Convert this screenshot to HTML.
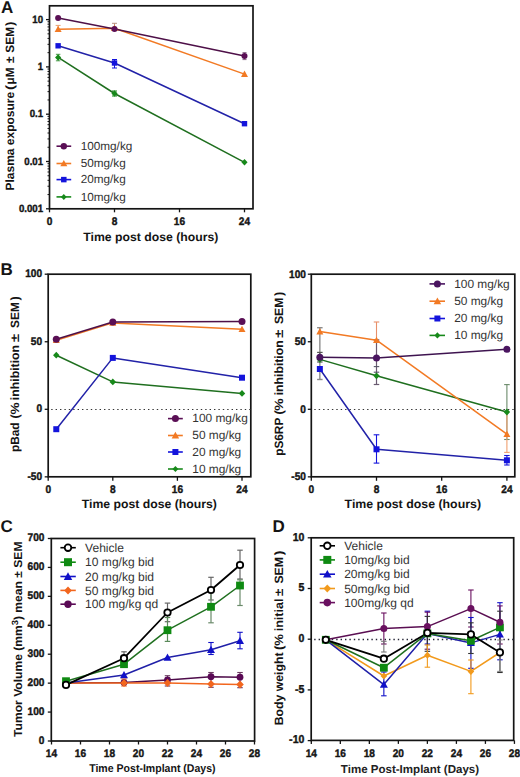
<!DOCTYPE html><html><head><meta charset="utf-8"><style>html,body{margin:0;padding:0;background:#fff;width:520px;height:777px;overflow:hidden}svg{display:block}</style></head><body>
<svg width="520" height="777" viewBox="0 0 520 777" style="font-family:'Liberation Sans',sans-serif;text-rendering:geometricPrecision">
<rect width="520" height="777" fill="#fff"/>
<text x="1.00" y="12.80" text-anchor="start" font-size="17" font-weight="bold" fill="#141414" >A</text>
<rect x="49.50" y="5.80" width="203.50" height="203.00" fill="none" stroke="#141414" stroke-width="1.7"/>
<line x1="46.00" y1="208.80" x2="49.50" y2="208.80" stroke="#141414" stroke-width="1.3" />
<text transform="translate(43.10,212.00) scale(0.92,1)" text-anchor="end" font-size="10.5" font-weight="bold" fill="#141414" stroke="#141414" stroke-width="0.4" >0.001</text>
<line x1="47.50" y1="194.56" x2="49.50" y2="194.56" stroke="#141414" stroke-width="1.0" />
<line x1="47.50" y1="186.23" x2="49.50" y2="186.23" stroke="#141414" stroke-width="1.0" />
<line x1="47.50" y1="180.32" x2="49.50" y2="180.32" stroke="#141414" stroke-width="1.0" />
<line x1="47.50" y1="175.74" x2="49.50" y2="175.74" stroke="#141414" stroke-width="1.0" />
<line x1="47.50" y1="171.99" x2="49.50" y2="171.99" stroke="#141414" stroke-width="1.0" />
<line x1="47.50" y1="168.83" x2="49.50" y2="168.83" stroke="#141414" stroke-width="1.0" />
<line x1="47.50" y1="166.08" x2="49.50" y2="166.08" stroke="#141414" stroke-width="1.0" />
<line x1="47.50" y1="163.66" x2="49.50" y2="163.66" stroke="#141414" stroke-width="1.0" />
<line x1="46.00" y1="161.50" x2="49.50" y2="161.50" stroke="#141414" stroke-width="1.3" />
<text transform="translate(43.10,164.70) scale(0.92,1)" text-anchor="end" font-size="10.5" font-weight="bold" fill="#141414" stroke="#141414" stroke-width="0.4" >0.01</text>
<line x1="47.50" y1="147.26" x2="49.50" y2="147.26" stroke="#141414" stroke-width="1.0" />
<line x1="47.50" y1="138.93" x2="49.50" y2="138.93" stroke="#141414" stroke-width="1.0" />
<line x1="47.50" y1="133.02" x2="49.50" y2="133.02" stroke="#141414" stroke-width="1.0" />
<line x1="47.50" y1="128.44" x2="49.50" y2="128.44" stroke="#141414" stroke-width="1.0" />
<line x1="47.50" y1="124.69" x2="49.50" y2="124.69" stroke="#141414" stroke-width="1.0" />
<line x1="47.50" y1="121.53" x2="49.50" y2="121.53" stroke="#141414" stroke-width="1.0" />
<line x1="47.50" y1="118.78" x2="49.50" y2="118.78" stroke="#141414" stroke-width="1.0" />
<line x1="47.50" y1="116.36" x2="49.50" y2="116.36" stroke="#141414" stroke-width="1.0" />
<line x1="46.00" y1="114.20" x2="49.50" y2="114.20" stroke="#141414" stroke-width="1.3" />
<text transform="translate(43.10,117.40) scale(0.92,1)" text-anchor="end" font-size="10.5" font-weight="bold" fill="#141414" stroke="#141414" stroke-width="0.4" >0.1</text>
<line x1="47.50" y1="99.96" x2="49.50" y2="99.96" stroke="#141414" stroke-width="1.0" />
<line x1="47.50" y1="91.63" x2="49.50" y2="91.63" stroke="#141414" stroke-width="1.0" />
<line x1="47.50" y1="85.72" x2="49.50" y2="85.72" stroke="#141414" stroke-width="1.0" />
<line x1="47.50" y1="81.14" x2="49.50" y2="81.14" stroke="#141414" stroke-width="1.0" />
<line x1="47.50" y1="77.39" x2="49.50" y2="77.39" stroke="#141414" stroke-width="1.0" />
<line x1="47.50" y1="74.23" x2="49.50" y2="74.23" stroke="#141414" stroke-width="1.0" />
<line x1="47.50" y1="71.48" x2="49.50" y2="71.48" stroke="#141414" stroke-width="1.0" />
<line x1="47.50" y1="69.06" x2="49.50" y2="69.06" stroke="#141414" stroke-width="1.0" />
<line x1="46.00" y1="66.90" x2="49.50" y2="66.90" stroke="#141414" stroke-width="1.3" />
<text transform="translate(43.10,70.10) scale(0.92,1)" text-anchor="end" font-size="10.5" font-weight="bold" fill="#141414" stroke="#141414" stroke-width="0.4" >1</text>
<line x1="47.50" y1="52.66" x2="49.50" y2="52.66" stroke="#141414" stroke-width="1.0" />
<line x1="47.50" y1="44.33" x2="49.50" y2="44.33" stroke="#141414" stroke-width="1.0" />
<line x1="47.50" y1="38.42" x2="49.50" y2="38.42" stroke="#141414" stroke-width="1.0" />
<line x1="47.50" y1="33.84" x2="49.50" y2="33.84" stroke="#141414" stroke-width="1.0" />
<line x1="47.50" y1="30.09" x2="49.50" y2="30.09" stroke="#141414" stroke-width="1.0" />
<line x1="47.50" y1="26.93" x2="49.50" y2="26.93" stroke="#141414" stroke-width="1.0" />
<line x1="47.50" y1="24.18" x2="49.50" y2="24.18" stroke="#141414" stroke-width="1.0" />
<line x1="47.50" y1="21.76" x2="49.50" y2="21.76" stroke="#141414" stroke-width="1.0" />
<line x1="46.00" y1="19.60" x2="49.50" y2="19.60" stroke="#141414" stroke-width="1.3" />
<text transform="translate(43.10,22.80) scale(0.92,1)" text-anchor="end" font-size="10.5" font-weight="bold" fill="#141414" stroke="#141414" stroke-width="0.4" >10</text>
<line x1="49.50" y1="208.80" x2="49.50" y2="212.30" stroke="#141414" stroke-width="1.3" />
<text transform="translate(49.50,224.60) scale(0.92,1)" text-anchor="middle" font-size="11" font-weight="bold" fill="#141414" stroke="#141414" stroke-width="0.4" >0</text>
<line x1="114.50" y1="208.80" x2="114.50" y2="212.30" stroke="#141414" stroke-width="1.3" />
<text transform="translate(114.50,224.60) scale(0.92,1)" text-anchor="middle" font-size="11" font-weight="bold" fill="#141414" stroke="#141414" stroke-width="0.4" >8</text>
<line x1="179.50" y1="208.80" x2="179.50" y2="212.30" stroke="#141414" stroke-width="1.3" />
<text transform="translate(179.50,224.60) scale(0.92,1)" text-anchor="middle" font-size="11" font-weight="bold" fill="#141414" stroke="#141414" stroke-width="0.4" >16</text>
<line x1="244.50" y1="208.80" x2="244.50" y2="212.30" stroke="#141414" stroke-width="1.3" />
<text transform="translate(244.50,224.60) scale(0.92,1)" text-anchor="middle" font-size="11" font-weight="bold" fill="#141414" stroke="#141414" stroke-width="0.4" >24</text>
<text x="150.80" y="240.80" text-anchor="middle" font-size="12" font-weight="bold" fill="#141414" textLength="135" lengthAdjust="spacingAndGlyphs" >Time post dose (hours)</text>
<text transform="translate(14.40,190.50) rotate(-90)" text-anchor="start" font-size="12" font-weight="bold" fill="#141414" textLength="98.70" lengthAdjust="spacingAndGlyphs">Plasma exposure</text>
<text transform="translate(14.40,89.90) rotate(-90)" text-anchor="start" font-size="12" font-weight="bold" fill="#141414" textLength="5.00" lengthAdjust="spacingAndGlyphs">(</text>
<text transform="translate(14.40,84.40) rotate(-90)" text-anchor="start" font-size="12" font-weight="bold" fill="#141414" textLength="16.90" lengthAdjust="spacingAndGlyphs">μM</text>
<text transform="translate(14.40,63.10) rotate(-90)" text-anchor="start" font-size="12" font-weight="bold" fill="#141414" textLength="6.50" lengthAdjust="spacingAndGlyphs">±</text>
<text transform="translate(14.40,52.70) rotate(-90)" text-anchor="start" font-size="12" font-weight="bold" fill="#141414" textLength="25.80" lengthAdjust="spacingAndGlyphs">SEM</text>
<text transform="translate(14.40,25.90) rotate(-90)" text-anchor="start" font-size="12" font-weight="bold" fill="#141414" textLength="4.40" lengthAdjust="spacingAndGlyphs">)</text>
<line x1="58.12" y1="25.40" x2="58.12" y2="29.00" stroke="#e8a070" stroke-width="1" />
<line x1="55.62" y1="25.40" x2="60.62" y2="25.40" stroke="#e8a070" stroke-width="1" />
<line x1="114.50" y1="23.30" x2="114.50" y2="29.00" stroke="#b89080" stroke-width="1" />
<line x1="112.00" y1="23.30" x2="117.00" y2="23.30" stroke="#b89080" stroke-width="1" />
<line x1="114.50" y1="59.50" x2="114.50" y2="68.00" stroke="#1414dc" stroke-width="1" />
<line x1="112.00" y1="59.50" x2="117.00" y2="59.50" stroke="#1414dc" stroke-width="1" />
<line x1="112.00" y1="68.00" x2="117.00" y2="68.00" stroke="#1414dc" stroke-width="1" />
<line x1="58.12" y1="54.30" x2="58.12" y2="60.80" stroke="#4a9a4a" stroke-width="1" />
<line x1="55.88" y1="54.30" x2="60.38" y2="54.30" stroke="#4a9a4a" stroke-width="1" />
<line x1="55.88" y1="60.80" x2="60.38" y2="60.80" stroke="#4a9a4a" stroke-width="1" />
<line x1="244.50" y1="52.60" x2="244.50" y2="59.60" stroke="#8a6a88" stroke-width="1" />
<line x1="242.50" y1="52.60" x2="246.50" y2="52.60" stroke="#8a6a88" stroke-width="1" />
<line x1="242.50" y1="59.60" x2="246.50" y2="59.60" stroke="#8a6a88" stroke-width="1" />
<line x1="114.50" y1="91.00" x2="114.50" y2="96.00" stroke="#17891a" stroke-width="1" />
<line x1="112.00" y1="91.00" x2="117.00" y2="91.00" stroke="#17891a" stroke-width="1" />
<line x1="112.00" y1="96.00" x2="117.00" y2="96.00" stroke="#17891a" stroke-width="1" />
<polyline points="58.12,57.40 114.50,93.50 244.50,162.30" fill="none" stroke="#1f6f1f" stroke-width="1.5" stroke-linejoin="round"/>
<polyline points="58.12,45.80 114.50,63.00 244.50,123.70" fill="none" stroke="#2222a8" stroke-width="1.5" stroke-linejoin="round"/>
<polyline points="58.12,29.20 114.50,28.30 244.50,74.10" fill="none" stroke="#f27a24" stroke-width="1.5" stroke-linejoin="round"/>
<polyline points="58.12,18.00 114.50,29.00 244.50,56.10" fill="none" stroke="#4e1048" stroke-width="1.5" stroke-linejoin="round"/>
<polygon points="58.12,54.15 61.21,57.40 58.12,60.65 55.04,57.40" fill="#17891a"/>
<polygon points="114.50,90.25 117.59,93.50 114.50,96.75 111.41,93.50" fill="#17891a"/>
<polygon points="244.50,159.05 247.59,162.30 244.50,165.55 241.41,162.30" fill="#17891a"/>
<rect x="55.42" y="43.10" width="5.40" height="5.40" fill="#1414dc"/>
<rect x="111.80" y="60.30" width="5.40" height="5.40" fill="#1414dc"/>
<rect x="241.80" y="121.00" width="5.40" height="5.40" fill="#1414dc"/>
<polygon points="58.12,25.70 61.62,32.00 54.62,32.00" fill="#f27a24"/>
<polygon points="114.50,24.80 118.00,31.10 111.00,31.10" fill="#f27a24"/>
<polygon points="244.50,70.60 248.00,76.90 241.00,76.90" fill="#f27a24"/>
<circle cx="58.12" cy="18.00" r="3.00" fill="#5a0f55"/>
<circle cx="114.50" cy="29.00" r="3.00" fill="#5a0f55"/>
<circle cx="244.50" cy="56.10" r="3.00" fill="#5a0f55"/>
<line x1="56.50" y1="146.20" x2="71.20" y2="146.20" stroke="#5a0f55" stroke-width="1.6" />
<circle cx="63.80" cy="146.20" r="3.20" fill="#5a0f55"/>
<text x="80.70" y="149.80" text-anchor="start" font-size="11.75" font-weight="normal" fill="#333333" >100mg/kg</text>
<line x1="56.50" y1="163.50" x2="71.20" y2="163.50" stroke="#f27a24" stroke-width="1.6" />
<polygon points="63.80,160.00 67.30,166.30 60.30,166.30" fill="#f27a24"/>
<text x="80.70" y="167.10" text-anchor="start" font-size="11.75" font-weight="normal" fill="#333333" >50mg/kg</text>
<line x1="56.50" y1="179.60" x2="71.20" y2="179.60" stroke="#1414dc" stroke-width="1.6" />
<rect x="61.05" y="176.85" width="5.50" height="5.50" fill="#1414dc"/>
<text x="80.70" y="183.20" text-anchor="start" font-size="11.75" font-weight="normal" fill="#333333" >20mg/kg</text>
<line x1="56.50" y1="196.90" x2="71.20" y2="196.90" stroke="#17891a" stroke-width="1.6" />
<polygon points="63.80,193.90 66.65,196.90 63.80,199.90 60.95,196.90" fill="#17891a"/>
<text x="80.70" y="200.50" text-anchor="start" font-size="11.75" font-weight="normal" fill="#333333" >10mg/kg</text>
<text x="0.60" y="275.30" text-anchor="start" font-size="17" font-weight="bold" fill="#141414" >B</text>
<rect x="48.20" y="274.20" width="202.60" height="202.60" fill="none" stroke="#141414" stroke-width="1.7"/>
<line x1="44.70" y1="274.20" x2="48.20" y2="274.20" stroke="#141414" stroke-width="1.3" />
<text transform="translate(42.10,277.10) scale(0.92,1)" text-anchor="end" font-size="11" font-weight="bold" fill="#141414" stroke="#141414" stroke-width="0.4" >100</text>
<line x1="44.70" y1="341.75" x2="48.20" y2="341.75" stroke="#141414" stroke-width="1.3" />
<text transform="translate(42.10,344.65) scale(0.92,1)" text-anchor="end" font-size="11" font-weight="bold" fill="#141414" stroke="#141414" stroke-width="0.4" >50</text>
<line x1="44.70" y1="409.30" x2="48.20" y2="409.30" stroke="#141414" stroke-width="1.3" />
<text transform="translate(42.10,412.20) scale(0.92,1)" text-anchor="end" font-size="11" font-weight="bold" fill="#141414" stroke="#141414" stroke-width="0.4" >0</text>
<line x1="44.70" y1="476.85" x2="48.20" y2="476.85" stroke="#141414" stroke-width="1.3" />
<text transform="translate(42.10,479.75) scale(0.92,1)" text-anchor="end" font-size="11" font-weight="bold" fill="#141414" stroke="#141414" stroke-width="0.4" >-50</text>
<line x1="48.20" y1="476.80" x2="48.20" y2="480.80" stroke="#141414" stroke-width="1.3" />
<text transform="translate(48.20,493.10) scale(0.92,1)" text-anchor="middle" font-size="11" font-weight="bold" fill="#141414" stroke="#141414" stroke-width="0.4" >0</text>
<line x1="112.80" y1="476.80" x2="112.80" y2="480.80" stroke="#141414" stroke-width="1.3" />
<text transform="translate(112.80,493.10) scale(0.92,1)" text-anchor="middle" font-size="11" font-weight="bold" fill="#141414" stroke="#141414" stroke-width="0.4" >8</text>
<line x1="177.40" y1="476.80" x2="177.40" y2="480.80" stroke="#141414" stroke-width="1.3" />
<text transform="translate(177.40,493.10) scale(0.92,1)" text-anchor="middle" font-size="11" font-weight="bold" fill="#141414" stroke="#141414" stroke-width="0.4" >16</text>
<line x1="242.00" y1="476.80" x2="242.00" y2="480.80" stroke="#141414" stroke-width="1.3" />
<text transform="translate(242.00,493.10) scale(0.92,1)" text-anchor="middle" font-size="11" font-weight="bold" fill="#141414" stroke="#141414" stroke-width="0.4" >24</text>
<line x1="51.20" y1="409.50" x2="250.80" y2="409.50" stroke="#333" stroke-width="1.1" stroke-dasharray="1.4,3"/>
<text x="149.30" y="508.00" text-anchor="middle" font-size="12" font-weight="bold" fill="#141414" textLength="135" lengthAdjust="spacingAndGlyphs" >Time post dose (hours)</text>
<text transform="translate(19.10,452.10) rotate(-90)" text-anchor="start" font-size="12" font-weight="bold" fill="#141414" textLength="29.60" lengthAdjust="spacingAndGlyphs">pBad</text>
<text transform="translate(19.10,418.50) rotate(-90)" text-anchor="start" font-size="12" font-weight="bold" fill="#141414" textLength="4.10" lengthAdjust="spacingAndGlyphs">(</text>
<text transform="translate(19.10,414.40) rotate(-90)" text-anchor="start" font-size="12" font-weight="bold" fill="#141414" textLength="12.10" lengthAdjust="spacingAndGlyphs">%</text>
<text transform="translate(19.10,400.20) rotate(-90)" text-anchor="start" font-size="12" font-weight="bold" fill="#141414" textLength="55.30" lengthAdjust="spacingAndGlyphs">inhibition</text>
<text transform="translate(19.10,342.10) rotate(-90)" text-anchor="start" font-size="12" font-weight="bold" fill="#141414" textLength="8.10" lengthAdjust="spacingAndGlyphs">±</text>
<text transform="translate(19.10,328.00) rotate(-90)" text-anchor="start" font-size="12" font-weight="bold" fill="#141414" textLength="25.80" lengthAdjust="spacingAndGlyphs">SEM</text>
<text transform="translate(19.10,300.40) rotate(-90)" text-anchor="start" font-size="12" font-weight="bold" fill="#141414" textLength="4.20" lengthAdjust="spacingAndGlyphs">)</text>
<polyline points="56.28,355.20 112.80,381.90 242.00,393.40" fill="none" stroke="#1f6f1f" stroke-width="1.5" stroke-linejoin="round"/>
<polyline points="56.28,429.20 112.80,357.90 242.00,377.70" fill="none" stroke="#2222a8" stroke-width="1.5" stroke-linejoin="round"/>
<polyline points="56.28,340.30 112.80,322.90 242.00,329.20" fill="none" stroke="#f27a24" stroke-width="1.5" stroke-linejoin="round"/>
<polyline points="56.28,339.20 112.80,322.00 242.00,321.50" fill="none" stroke="#4e1048" stroke-width="1.5" stroke-linejoin="round"/>
<polygon points="56.28,351.80 59.51,355.20 56.28,358.60 53.05,355.20" fill="#17891a"/>
<polygon points="112.80,378.50 116.03,381.90 112.80,385.30 109.57,381.90" fill="#17891a"/>
<polygon points="242.00,390.00 245.23,393.40 242.00,396.80 238.77,393.40" fill="#17891a"/>
<rect x="53.28" y="426.20" width="6.00" height="6.00" fill="#1414dc"/>
<rect x="109.80" y="354.90" width="6.00" height="6.00" fill="#1414dc"/>
<rect x="239.00" y="374.70" width="6.00" height="6.00" fill="#1414dc"/>
<polygon points="56.28,336.80 59.78,343.10 52.78,343.10" fill="#f27a24"/>
<polygon points="112.80,319.40 116.30,325.70 109.30,325.70" fill="#f27a24"/>
<polygon points="242.00,325.70 245.50,332.00 238.50,332.00" fill="#f27a24"/>
<circle cx="56.28" cy="339.20" r="3.50" fill="#5a0f55"/>
<circle cx="112.80" cy="322.00" r="3.50" fill="#5a0f55"/>
<circle cx="242.00" cy="321.50" r="3.50" fill="#5a0f55"/>
<line x1="168.00" y1="418.60" x2="182.80" y2="418.60" stroke="#5a0f55" stroke-width="1.6" />
<circle cx="175.40" cy="418.60" r="3.50" fill="#5a0f55"/>
<text x="192.30" y="422.20" text-anchor="start" font-size="11.9" font-weight="normal" fill="#333333" >100 mg/kg</text>
<line x1="168.00" y1="435.50" x2="182.80" y2="435.50" stroke="#f27a24" stroke-width="1.6" />
<polygon points="175.40,431.75 179.15,438.50 171.65,438.50" fill="#f27a24"/>
<text x="192.30" y="439.10" text-anchor="start" font-size="11.9" font-weight="normal" fill="#333333" >50 mg/kg</text>
<line x1="168.00" y1="452.00" x2="182.80" y2="452.00" stroke="#1414dc" stroke-width="1.6" />
<rect x="172.40" y="449.00" width="6.00" height="6.00" fill="#1414dc"/>
<text x="192.30" y="455.60" text-anchor="start" font-size="11.9" font-weight="normal" fill="#333333" >20 mg/kg</text>
<line x1="168.00" y1="469.00" x2="182.80" y2="469.00" stroke="#17891a" stroke-width="1.6" />
<polygon points="175.40,465.90 178.34,469.00 175.40,472.10 172.46,469.00" fill="#17891a"/>
<text x="192.30" y="472.60" text-anchor="start" font-size="11.9" font-weight="normal" fill="#333333" >10 mg/kg</text>
<rect x="311.30" y="274.20" width="203.50" height="202.60" fill="none" stroke="#141414" stroke-width="1.7"/>
<line x1="307.80" y1="274.20" x2="311.30" y2="274.20" stroke="#141414" stroke-width="1.3" />
<text transform="translate(306.00,277.60) scale(0.92,1)" text-anchor="end" font-size="11" font-weight="bold" fill="#141414" stroke="#141414" stroke-width="0.4" >100</text>
<line x1="307.80" y1="341.75" x2="311.30" y2="341.75" stroke="#141414" stroke-width="1.3" />
<text transform="translate(306.00,345.15) scale(0.92,1)" text-anchor="end" font-size="11" font-weight="bold" fill="#141414" stroke="#141414" stroke-width="0.4" >50</text>
<line x1="307.80" y1="409.30" x2="311.30" y2="409.30" stroke="#141414" stroke-width="1.3" />
<text transform="translate(306.00,412.70) scale(0.92,1)" text-anchor="end" font-size="11" font-weight="bold" fill="#141414" stroke="#141414" stroke-width="0.4" >0</text>
<line x1="307.80" y1="476.85" x2="311.30" y2="476.85" stroke="#141414" stroke-width="1.3" />
<text transform="translate(306.00,480.25) scale(0.92,1)" text-anchor="end" font-size="11" font-weight="bold" fill="#141414" stroke="#141414" stroke-width="0.4" >-50</text>
<line x1="311.30" y1="476.80" x2="311.30" y2="480.80" stroke="#141414" stroke-width="1.3" />
<text transform="translate(311.30,493.10) scale(0.92,1)" text-anchor="middle" font-size="11" font-weight="bold" fill="#141414" stroke="#141414" stroke-width="0.4" >0</text>
<line x1="376.50" y1="476.80" x2="376.50" y2="480.80" stroke="#141414" stroke-width="1.3" />
<text transform="translate(376.50,493.10) scale(0.92,1)" text-anchor="middle" font-size="11" font-weight="bold" fill="#141414" stroke="#141414" stroke-width="0.4" >8</text>
<line x1="441.70" y1="476.80" x2="441.70" y2="480.80" stroke="#141414" stroke-width="1.3" />
<text transform="translate(441.70,493.10) scale(0.92,1)" text-anchor="middle" font-size="11" font-weight="bold" fill="#141414" stroke="#141414" stroke-width="0.4" >16</text>
<line x1="506.90" y1="476.80" x2="506.90" y2="480.80" stroke="#141414" stroke-width="1.3" />
<text transform="translate(506.90,493.10) scale(0.92,1)" text-anchor="middle" font-size="11" font-weight="bold" fill="#141414" stroke="#141414" stroke-width="0.4" >24</text>
<line x1="314.30" y1="409.50" x2="514.80" y2="409.50" stroke="#333" stroke-width="1.1" stroke-dasharray="1.4,3"/>
<text x="412.80" y="508.10" text-anchor="middle" font-size="12" font-weight="bold" fill="#141414" textLength="136.5" lengthAdjust="spacingAndGlyphs" >Time post dose (hours)</text>
<text transform="translate(283.00,455.80) rotate(-90)" text-anchor="start" font-size="12" font-weight="bold" fill="#141414" textLength="38.10" lengthAdjust="spacingAndGlyphs">pS6RP</text>
<text transform="translate(283.00,414.50) rotate(-90)" text-anchor="start" font-size="12" font-weight="bold" fill="#141414" textLength="4.20" lengthAdjust="spacingAndGlyphs">(</text>
<text transform="translate(283.00,410.80) rotate(-90)" text-anchor="start" font-size="12" font-weight="bold" fill="#141414" textLength="12.40" lengthAdjust="spacingAndGlyphs">%</text>
<text transform="translate(283.00,395.30) rotate(-90)" text-anchor="start" font-size="12" font-weight="bold" fill="#141414" textLength="55.00" lengthAdjust="spacingAndGlyphs">inhibition</text>
<text transform="translate(283.00,337.70) rotate(-90)" text-anchor="start" font-size="12" font-weight="bold" fill="#141414" textLength="8.00" lengthAdjust="spacingAndGlyphs">±</text>
<text transform="translate(283.00,324.00) rotate(-90)" text-anchor="start" font-size="12" font-weight="bold" fill="#141414" textLength="26.40" lengthAdjust="spacingAndGlyphs">SEM</text>
<text transform="translate(283.00,296.10) rotate(-90)" text-anchor="start" font-size="12" font-weight="bold" fill="#141414" textLength="4.20" lengthAdjust="spacingAndGlyphs">)</text>
<line x1="319.85" y1="327.70" x2="319.85" y2="379.50" stroke="#8c8c8c" stroke-width="1.4" />
<line x1="317.10" y1="327.70" x2="322.60" y2="327.70" stroke="#8c8c8c" stroke-width="1.4" />
<line x1="317.10" y1="379.50" x2="322.60" y2="379.50" stroke="#8c8c8c" stroke-width="1.4" />
<line x1="319.85" y1="352.40" x2="319.85" y2="362.00" stroke="#555" stroke-width="1.2" />
<line x1="317.10" y1="352.40" x2="322.60" y2="352.40" stroke="#555" stroke-width="1.2" />
<line x1="317.10" y1="362.00" x2="322.60" y2="362.00" stroke="#555" stroke-width="1.2" />
<line x1="376.50" y1="322.00" x2="376.50" y2="340.00" stroke="#e8906a" stroke-width="1.1" />
<line x1="373.75" y1="322.00" x2="379.25" y2="322.00" stroke="#e8906a" stroke-width="1.1" />
<line x1="373.75" y1="340.00" x2="379.25" y2="340.00" stroke="#e8906a" stroke-width="1.1" />
<line x1="376.50" y1="340.00" x2="376.50" y2="384.50" stroke="#6a5a70" stroke-width="1.2" />
<line x1="373.75" y1="340.00" x2="379.25" y2="340.00" stroke="#6a5a70" stroke-width="1.2" />
<line x1="373.75" y1="384.50" x2="379.25" y2="384.50" stroke="#6a5a70" stroke-width="1.2" />
<line x1="373.75" y1="366.60" x2="379.25" y2="366.60" stroke="#556" stroke-width="1.1" />
<line x1="373.75" y1="372.20" x2="379.25" y2="372.20" stroke="#556" stroke-width="1.1" />
<line x1="376.50" y1="434.80" x2="376.50" y2="463.10" stroke="#1414dc" stroke-width="1.1" />
<line x1="373.65" y1="434.80" x2="379.35" y2="434.80" stroke="#1414dc" stroke-width="1.1" />
<line x1="373.65" y1="463.10" x2="379.35" y2="463.10" stroke="#1414dc" stroke-width="1.1" />
<line x1="506.90" y1="384.60" x2="506.90" y2="439.50" stroke="#6a8a6a" stroke-width="1.1" />
<line x1="504.15" y1="384.60" x2="509.65" y2="384.60" stroke="#6a8a6a" stroke-width="1.1" />
<line x1="504.15" y1="439.50" x2="509.65" y2="439.50" stroke="#6a8a6a" stroke-width="1.1" />
<line x1="506.90" y1="412.00" x2="506.90" y2="452.40" stroke="#f0a070" stroke-width="1.1" />
<line x1="504.15" y1="452.40" x2="509.65" y2="452.40" stroke="#f0a070" stroke-width="1.1" />
<line x1="506.90" y1="455.50" x2="506.90" y2="465.00" stroke="#1414dc" stroke-width="1.1" />
<line x1="504.15" y1="455.50" x2="509.65" y2="455.50" stroke="#1414dc" stroke-width="1.1" />
<line x1="504.15" y1="465.00" x2="509.65" y2="465.00" stroke="#1414dc" stroke-width="1.1" />
<polyline points="319.85,359.40 376.50,375.80 506.90,412.00" fill="none" stroke="#1f6f1f" stroke-width="1.5" stroke-linejoin="round"/>
<polyline points="319.85,369.00 376.50,449.30 506.90,460.30" fill="none" stroke="#2222a8" stroke-width="1.5" stroke-linejoin="round"/>
<polyline points="319.85,331.60 376.50,340.20 506.90,434.20" fill="none" stroke="#f27a24" stroke-width="1.5" stroke-linejoin="round"/>
<polyline points="319.85,357.30 376.50,358.00 506.90,349.30" fill="none" stroke="#3e1450" stroke-width="1.5" stroke-linejoin="round"/>
<polygon points="319.85,356.00 323.08,359.40 319.85,362.80 316.62,359.40" fill="#17891a"/>
<polygon points="376.50,372.40 379.73,375.80 376.50,379.20 373.27,375.80" fill="#17891a"/>
<polygon points="506.90,408.60 510.13,412.00 506.90,415.40 503.67,412.00" fill="#17891a"/>
<rect x="316.85" y="366.00" width="6.00" height="6.00" fill="#1414dc"/>
<rect x="373.50" y="446.30" width="6.00" height="6.00" fill="#1414dc"/>
<rect x="503.90" y="457.30" width="6.00" height="6.00" fill="#1414dc"/>
<polygon points="319.85,328.10 323.35,334.40 316.35,334.40" fill="#f27a24"/>
<polygon points="376.50,336.70 380.00,343.00 373.00,343.00" fill="#f27a24"/>
<polygon points="506.90,430.70 510.40,437.00 503.40,437.00" fill="#f27a24"/>
<circle cx="319.85" cy="357.30" r="3.50" fill="#4a1560"/>
<circle cx="376.50" cy="358.00" r="3.50" fill="#4a1560"/>
<circle cx="506.90" cy="349.30" r="3.50" fill="#4a1560"/>
<line x1="429.50" y1="283.90" x2="445.00" y2="283.90" stroke="#4a1560" stroke-width="1.6" />
<circle cx="437.40" cy="283.90" r="3.50" fill="#4a1560"/>
<text x="454.20" y="287.70" text-anchor="start" font-size="11.9" font-weight="normal" fill="#333333" >100 mg/kg</text>
<line x1="429.50" y1="301.20" x2="445.00" y2="301.20" stroke="#f27a24" stroke-width="1.6" />
<polygon points="437.40,297.45 441.15,304.20 433.65,304.20" fill="#f27a24"/>
<text x="454.20" y="305.00" text-anchor="start" font-size="11.9" font-weight="normal" fill="#333333" >50 mg/kg</text>
<line x1="429.50" y1="318.50" x2="445.00" y2="318.50" stroke="#1414dc" stroke-width="1.6" />
<rect x="434.40" y="315.50" width="6.00" height="6.00" fill="#1414dc"/>
<text x="454.20" y="322.30" text-anchor="start" font-size="11.9" font-weight="normal" fill="#333333" >20 mg/kg</text>
<line x1="429.50" y1="335.40" x2="445.00" y2="335.40" stroke="#17891a" stroke-width="1.6" />
<polygon points="437.40,332.30 440.34,335.40 437.40,338.50 434.45,335.40" fill="#17891a"/>
<text x="454.20" y="339.20" text-anchor="start" font-size="11.9" font-weight="normal" fill="#333333" >10 mg/kg</text>
<text x="0.60" y="532.40" text-anchor="start" font-size="17" font-weight="bold" fill="#141414" >C</text>
<rect x="51.30" y="538.50" width="203.30" height="202.50" fill="none" stroke="#141414" stroke-width="1.7"/>
<line x1="47.80" y1="741.00" x2="51.30" y2="741.00" stroke="#141414" stroke-width="1.3" />
<text transform="translate(44.50,743.50) scale(0.92,1)" text-anchor="end" font-size="11" font-weight="bold" fill="#141414" stroke="#141414" stroke-width="0.4" >0</text>
<line x1="47.80" y1="712.07" x2="51.30" y2="712.07" stroke="#141414" stroke-width="1.3" />
<text transform="translate(44.50,714.57) scale(0.92,1)" text-anchor="end" font-size="11" font-weight="bold" fill="#141414" stroke="#141414" stroke-width="0.4" >100</text>
<line x1="47.80" y1="683.14" x2="51.30" y2="683.14" stroke="#141414" stroke-width="1.3" />
<text transform="translate(44.50,685.64) scale(0.92,1)" text-anchor="end" font-size="11" font-weight="bold" fill="#141414" stroke="#141414" stroke-width="0.4" >200</text>
<line x1="47.80" y1="654.21" x2="51.30" y2="654.21" stroke="#141414" stroke-width="1.3" />
<text transform="translate(44.50,656.71) scale(0.92,1)" text-anchor="end" font-size="11" font-weight="bold" fill="#141414" stroke="#141414" stroke-width="0.4" >300</text>
<line x1="47.80" y1="625.28" x2="51.30" y2="625.28" stroke="#141414" stroke-width="1.3" />
<text transform="translate(44.50,627.78) scale(0.92,1)" text-anchor="end" font-size="11" font-weight="bold" fill="#141414" stroke="#141414" stroke-width="0.4" >400</text>
<line x1="47.80" y1="596.35" x2="51.30" y2="596.35" stroke="#141414" stroke-width="1.3" />
<text transform="translate(44.50,598.85) scale(0.92,1)" text-anchor="end" font-size="11" font-weight="bold" fill="#141414" stroke="#141414" stroke-width="0.4" >500</text>
<line x1="47.80" y1="567.42" x2="51.30" y2="567.42" stroke="#141414" stroke-width="1.3" />
<text transform="translate(44.50,569.92) scale(0.92,1)" text-anchor="end" font-size="11" font-weight="bold" fill="#141414" stroke="#141414" stroke-width="0.4" >600</text>
<line x1="47.80" y1="538.49" x2="51.30" y2="538.49" stroke="#141414" stroke-width="1.3" />
<text transform="translate(44.50,540.99) scale(0.92,1)" text-anchor="end" font-size="11" font-weight="bold" fill="#141414" stroke="#141414" stroke-width="0.4" >700</text>
<line x1="51.50" y1="741.00" x2="51.50" y2="744.50" stroke="#141414" stroke-width="1.3" />
<text transform="translate(51.50,757.20) scale(0.92,1)" text-anchor="middle" font-size="11" font-weight="bold" fill="#141414" stroke="#141414" stroke-width="0.4" >14</text>
<line x1="80.50" y1="741.00" x2="80.50" y2="744.50" stroke="#141414" stroke-width="1.3" />
<text transform="translate(80.50,757.20) scale(0.92,1)" text-anchor="middle" font-size="11" font-weight="bold" fill="#141414" stroke="#141414" stroke-width="0.4" >16</text>
<line x1="109.50" y1="741.00" x2="109.50" y2="744.50" stroke="#141414" stroke-width="1.3" />
<text transform="translate(109.50,757.20) scale(0.92,1)" text-anchor="middle" font-size="11" font-weight="bold" fill="#141414" stroke="#141414" stroke-width="0.4" >18</text>
<line x1="138.50" y1="741.00" x2="138.50" y2="744.50" stroke="#141414" stroke-width="1.3" />
<text transform="translate(138.50,757.20) scale(0.92,1)" text-anchor="middle" font-size="11" font-weight="bold" fill="#141414" stroke="#141414" stroke-width="0.4" >20</text>
<line x1="167.50" y1="741.00" x2="167.50" y2="744.50" stroke="#141414" stroke-width="1.3" />
<text transform="translate(167.50,757.20) scale(0.92,1)" text-anchor="middle" font-size="11" font-weight="bold" fill="#141414" stroke="#141414" stroke-width="0.4" >22</text>
<line x1="196.50" y1="741.00" x2="196.50" y2="744.50" stroke="#141414" stroke-width="1.3" />
<text transform="translate(196.50,757.20) scale(0.92,1)" text-anchor="middle" font-size="11" font-weight="bold" fill="#141414" stroke="#141414" stroke-width="0.4" >24</text>
<line x1="225.50" y1="741.00" x2="225.50" y2="744.50" stroke="#141414" stroke-width="1.3" />
<text transform="translate(225.50,757.20) scale(0.92,1)" text-anchor="middle" font-size="11" font-weight="bold" fill="#141414" stroke="#141414" stroke-width="0.4" >26</text>
<line x1="254.50" y1="741.00" x2="254.50" y2="744.50" stroke="#141414" stroke-width="1.3" />
<text transform="translate(254.50,757.20) scale(0.92,1)" text-anchor="middle" font-size="11" font-weight="bold" fill="#141414" stroke="#141414" stroke-width="0.4" >28</text>
<text x="152.40" y="771.80" text-anchor="middle" font-size="11.2" font-weight="bold" fill="#141414" textLength="126.4" lengthAdjust="spacingAndGlyphs" >Time Post-Implant (Days)</text>
<text transform="translate(22.0,639.2) rotate(-90)" text-anchor="middle" font-size="11.6" font-weight="bold" fill="#141414" textLength="195.4" lengthAdjust="spacingAndGlyphs">Tumor Volume (mm<tspan dy="-4.5" font-size="9">3</tspan><tspan dy="4.5">) mean ± SEM</tspan></text>
<line x1="124.00" y1="651.80" x2="124.00" y2="666.00" stroke="#666" stroke-width="1.2" />
<line x1="121.25" y1="651.80" x2="126.75" y2="651.80" stroke="#666" stroke-width="1.2" />
<line x1="121.25" y1="666.00" x2="126.75" y2="666.00" stroke="#666" stroke-width="1.2" />
<line x1="167.50" y1="603.10" x2="167.50" y2="621.70" stroke="#666" stroke-width="1.2" />
<line x1="164.75" y1="603.10" x2="170.25" y2="603.10" stroke="#666" stroke-width="1.2" />
<line x1="164.75" y1="621.70" x2="170.25" y2="621.70" stroke="#666" stroke-width="1.2" />
<line x1="167.50" y1="617.50" x2="167.50" y2="641.40" stroke="#5a8a5a" stroke-width="1.2" />
<line x1="164.75" y1="617.50" x2="170.25" y2="617.50" stroke="#5a8a5a" stroke-width="1.2" />
<line x1="164.75" y1="641.40" x2="170.25" y2="641.40" stroke="#5a8a5a" stroke-width="1.2" />
<line x1="211.00" y1="577.30" x2="211.00" y2="600.00" stroke="#666" stroke-width="1.2" />
<line x1="208.25" y1="577.30" x2="213.75" y2="577.30" stroke="#666" stroke-width="1.2" />
<line x1="208.25" y1="600.00" x2="213.75" y2="600.00" stroke="#666" stroke-width="1.2" />
<line x1="211.00" y1="592.00" x2="211.00" y2="622.80" stroke="#6a8a6a" stroke-width="1.2" />
<line x1="208.25" y1="592.00" x2="213.75" y2="592.00" stroke="#6a8a6a" stroke-width="1.2" />
<line x1="208.25" y1="622.80" x2="213.75" y2="622.80" stroke="#6a8a6a" stroke-width="1.2" />
<line x1="240.00" y1="550.20" x2="240.00" y2="579.00" stroke="#666" stroke-width="1.2" />
<line x1="237.25" y1="550.20" x2="242.75" y2="550.20" stroke="#666" stroke-width="1.2" />
<line x1="237.25" y1="579.00" x2="242.75" y2="579.00" stroke="#666" stroke-width="1.2" />
<line x1="240.00" y1="579.80" x2="240.00" y2="605.50" stroke="#6a8a6a" stroke-width="1.2" />
<line x1="237.25" y1="579.80" x2="242.75" y2="579.80" stroke="#6a8a6a" stroke-width="1.2" />
<line x1="237.25" y1="605.50" x2="242.75" y2="605.50" stroke="#6a8a6a" stroke-width="1.2" />
<line x1="211.00" y1="642.50" x2="211.00" y2="654.50" stroke="#1010c8" stroke-width="1.1" />
<line x1="208.25" y1="642.50" x2="213.75" y2="642.50" stroke="#1010c8" stroke-width="1.1" />
<line x1="208.25" y1="654.50" x2="213.75" y2="654.50" stroke="#1010c8" stroke-width="1.1" />
<line x1="240.00" y1="632.30" x2="240.00" y2="648.80" stroke="#1010c8" stroke-width="1.1" />
<line x1="237.25" y1="632.30" x2="242.75" y2="632.30" stroke="#1010c8" stroke-width="1.1" />
<line x1="237.25" y1="648.80" x2="242.75" y2="648.80" stroke="#1010c8" stroke-width="1.1" />
<line x1="167.50" y1="675.70" x2="167.50" y2="686.00" stroke="#6a3a60" stroke-width="1.1" />
<line x1="164.75" y1="675.70" x2="170.25" y2="675.70" stroke="#6a3a60" stroke-width="1.1" />
<line x1="164.75" y1="686.00" x2="170.25" y2="686.00" stroke="#6a3a60" stroke-width="1.1" />
<line x1="211.00" y1="672.50" x2="211.00" y2="687.30" stroke="#6a3a60" stroke-width="1.1" />
<line x1="208.25" y1="672.50" x2="213.75" y2="672.50" stroke="#6a3a60" stroke-width="1.1" />
<line x1="208.25" y1="687.30" x2="213.75" y2="687.30" stroke="#6a3a60" stroke-width="1.1" />
<line x1="240.00" y1="672.50" x2="240.00" y2="687.70" stroke="#6a3a60" stroke-width="1.1" />
<line x1="237.25" y1="672.50" x2="242.75" y2="672.50" stroke="#6a3a60" stroke-width="1.1" />
<line x1="237.25" y1="687.70" x2="242.75" y2="687.70" stroke="#6a3a60" stroke-width="1.1" />
<line x1="124.00" y1="679.00" x2="124.00" y2="686.00" stroke="#f2661e" stroke-width="1.1" />
<line x1="121.25" y1="679.00" x2="126.75" y2="679.00" stroke="#f2661e" stroke-width="1.1" />
<line x1="121.25" y1="686.00" x2="126.75" y2="686.00" stroke="#f2661e" stroke-width="1.1" />
<polyline points="66.00,683.00 124.00,682.60 167.50,679.90 211.00,676.70 240.00,677.20" fill="none" stroke="#4e0c4a" stroke-width="1.5" stroke-linejoin="round"/>
<polyline points="66.00,683.00 124.00,683.00 167.50,683.00 211.00,684.10 240.00,684.60" fill="none" stroke="#f2661e" stroke-width="1.5" stroke-linejoin="round"/>
<polyline points="66.00,683.00 124.00,675.00 167.50,657.50 211.00,649.70 240.00,640.80" fill="none" stroke="#2020a8" stroke-width="1.5" stroke-linejoin="round"/>
<polyline points="66.00,681.20 124.00,664.20 167.50,630.20 211.00,606.80 240.00,585.50" fill="none" stroke="#1f701f" stroke-width="1.5" stroke-linejoin="round"/>
<polyline points="66.00,684.90 124.00,658.20 167.50,612.50 211.00,590.00 240.00,565.00" fill="none" stroke="#000" stroke-width="1.8" stroke-linejoin="round"/>
<circle cx="66.00" cy="683.00" r="3.40" fill="#5a0a55"/>
<circle cx="124.00" cy="682.60" r="3.40" fill="#5a0a55"/>
<circle cx="167.50" cy="679.90" r="3.40" fill="#5a0a55"/>
<circle cx="211.00" cy="676.70" r="3.40" fill="#5a0a55"/>
<circle cx="240.00" cy="677.20" r="3.40" fill="#5a0a55"/>
<polygon points="66.00,679.00 69.80,683.00 66.00,687.00 62.20,683.00" fill="#f2661e"/>
<polygon points="124.00,679.00 127.80,683.00 124.00,687.00 120.20,683.00" fill="#f2661e"/>
<polygon points="167.50,679.00 171.30,683.00 167.50,687.00 163.70,683.00" fill="#f2661e"/>
<polygon points="211.00,680.10 214.80,684.10 211.00,688.10 207.20,684.10" fill="#f2661e"/>
<polygon points="240.00,680.60 243.80,684.60 240.00,688.60 236.20,684.60" fill="#f2661e"/>
<polygon points="66.00,679.00 70.00,686.20 62.00,686.20" fill="#1010c8"/>
<polygon points="124.00,671.00 128.00,678.20 120.00,678.20" fill="#1010c8"/>
<polygon points="167.50,653.50 171.50,660.70 163.50,660.70" fill="#1010c8"/>
<polygon points="211.00,645.70 215.00,652.90 207.00,652.90" fill="#1010c8"/>
<polygon points="240.00,636.80 244.00,644.00 236.00,644.00" fill="#1010c8"/>
<rect x="62.10" y="677.30" width="7.80" height="7.80" fill="#0f8a12"/>
<rect x="120.10" y="660.30" width="7.80" height="7.80" fill="#0f8a12"/>
<rect x="163.60" y="626.30" width="7.80" height="7.80" fill="#0f8a12"/>
<rect x="207.10" y="602.90" width="7.80" height="7.80" fill="#0f8a12"/>
<rect x="236.10" y="581.60" width="7.80" height="7.80" fill="#0f8a12"/>
<circle cx="66.00" cy="684.90" r="3.20" fill="#fff" stroke="#000" stroke-width="1.8"/>
<circle cx="124.00" cy="658.20" r="3.20" fill="#fff" stroke="#000" stroke-width="1.8"/>
<circle cx="167.50" cy="612.50" r="3.20" fill="#fff" stroke="#000" stroke-width="1.8"/>
<circle cx="211.00" cy="590.00" r="3.20" fill="#fff" stroke="#000" stroke-width="1.8"/>
<circle cx="240.00" cy="565.00" r="3.20" fill="#fff" stroke="#000" stroke-width="1.8"/>
<line x1="60.40" y1="547.70" x2="75.80" y2="547.70" stroke="#000" stroke-width="1.6" />
<circle cx="68.00" cy="547.70" r="3.30" fill="#fff" stroke="#000" stroke-width="1.8"/>
<text x="85.10" y="551.80" text-anchor="start" font-size="12.05" font-weight="normal" fill="#333333" >Vehicle</text>
<line x1="60.40" y1="562.20" x2="75.80" y2="562.20" stroke="#0f8a12" stroke-width="1.6" />
<rect x="64.00" y="558.20" width="8.00" height="8.00" fill="#0f8a12"/>
<text x="85.10" y="566.30" text-anchor="start" font-size="12.05" font-weight="normal" fill="#333333" >10 mg/kg bid</text>
<line x1="60.40" y1="576.50" x2="75.80" y2="576.50" stroke="#1010c8" stroke-width="1.6" />
<polygon points="68.00,572.25 72.25,579.90 63.75,579.90" fill="#1010c8"/>
<text x="85.10" y="580.60" text-anchor="start" font-size="12.05" font-weight="normal" fill="#333333" >20 mg/kg bid</text>
<line x1="60.40" y1="590.40" x2="75.80" y2="590.40" stroke="#f2661e" stroke-width="1.6" />
<polygon points="68.00,586.40 71.80,590.40 68.00,594.40 64.20,590.40" fill="#f2661e"/>
<text x="85.10" y="594.50" text-anchor="start" font-size="12.05" font-weight="normal" fill="#333333" >50 mg/kg bid</text>
<line x1="60.40" y1="604.20" x2="75.80" y2="604.20" stroke="#5a0a55" stroke-width="1.6" />
<circle cx="68.00" cy="604.20" r="3.70" fill="#5a0a55"/>
<text x="85.10" y="608.30" text-anchor="start" font-size="12.05" font-weight="normal" fill="#333333" >100 mg/kg qd</text>
<text x="272.60" y="532.20" text-anchor="start" font-size="17" font-weight="bold" fill="#141414" >D</text>
<rect x="311.20" y="537.80" width="202.50" height="202.60" fill="none" stroke="#141414" stroke-width="1.7"/>
<line x1="307.70" y1="537.80" x2="311.20" y2="537.80" stroke="#141414" stroke-width="1.3" />
<text transform="translate(304.40,540.50) scale(0.92,1)" text-anchor="end" font-size="11.5" font-weight="bold" fill="#141414" stroke="#141414" stroke-width="0.4" >10</text>
<line x1="307.70" y1="588.50" x2="311.20" y2="588.50" stroke="#141414" stroke-width="1.3" />
<text transform="translate(304.40,591.20) scale(0.92,1)" text-anchor="end" font-size="11.5" font-weight="bold" fill="#141414" stroke="#141414" stroke-width="0.4" >5</text>
<line x1="307.70" y1="639.20" x2="311.20" y2="639.20" stroke="#141414" stroke-width="1.3" />
<text transform="translate(304.40,641.90) scale(0.92,1)" text-anchor="end" font-size="11.5" font-weight="bold" fill="#141414" stroke="#141414" stroke-width="0.4" >0</text>
<line x1="307.70" y1="689.90" x2="311.20" y2="689.90" stroke="#141414" stroke-width="1.3" />
<text transform="translate(304.40,692.60) scale(0.92,1)" text-anchor="end" font-size="11.5" font-weight="bold" fill="#141414" stroke="#141414" stroke-width="0.4" >-5</text>
<line x1="307.70" y1="740.60" x2="311.20" y2="740.60" stroke="#141414" stroke-width="1.3" />
<text transform="translate(304.40,743.30) scale(0.92,1)" text-anchor="end" font-size="11.5" font-weight="bold" fill="#141414" stroke="#141414" stroke-width="0.4" >-10</text>
<line x1="311.30" y1="740.40" x2="311.30" y2="743.90" stroke="#141414" stroke-width="1.3" />
<text transform="translate(311.30,757.20) scale(0.92,1)" text-anchor="middle" font-size="11" font-weight="bold" fill="#141414" stroke="#141414" stroke-width="0.4" >14</text>
<line x1="340.32" y1="740.40" x2="340.32" y2="743.90" stroke="#141414" stroke-width="1.3" />
<text transform="translate(340.32,757.20) scale(0.92,1)" text-anchor="middle" font-size="11" font-weight="bold" fill="#141414" stroke="#141414" stroke-width="0.4" >16</text>
<line x1="369.34" y1="740.40" x2="369.34" y2="743.90" stroke="#141414" stroke-width="1.3" />
<text transform="translate(369.34,757.20) scale(0.92,1)" text-anchor="middle" font-size="11" font-weight="bold" fill="#141414" stroke="#141414" stroke-width="0.4" >18</text>
<line x1="398.36" y1="740.40" x2="398.36" y2="743.90" stroke="#141414" stroke-width="1.3" />
<text transform="translate(398.36,757.20) scale(0.92,1)" text-anchor="middle" font-size="11" font-weight="bold" fill="#141414" stroke="#141414" stroke-width="0.4" >20</text>
<line x1="427.38" y1="740.40" x2="427.38" y2="743.90" stroke="#141414" stroke-width="1.3" />
<text transform="translate(427.38,757.20) scale(0.92,1)" text-anchor="middle" font-size="11" font-weight="bold" fill="#141414" stroke="#141414" stroke-width="0.4" >22</text>
<line x1="456.40" y1="740.40" x2="456.40" y2="743.90" stroke="#141414" stroke-width="1.3" />
<text transform="translate(456.40,757.20) scale(0.92,1)" text-anchor="middle" font-size="11" font-weight="bold" fill="#141414" stroke="#141414" stroke-width="0.4" >24</text>
<line x1="485.42" y1="740.40" x2="485.42" y2="743.90" stroke="#141414" stroke-width="1.3" />
<text transform="translate(485.42,757.20) scale(0.92,1)" text-anchor="middle" font-size="11" font-weight="bold" fill="#141414" stroke="#141414" stroke-width="0.4" >26</text>
<line x1="514.44" y1="740.40" x2="514.44" y2="743.90" stroke="#141414" stroke-width="1.3" />
<text transform="translate(514.44,757.20) scale(0.92,1)" text-anchor="middle" font-size="11" font-weight="bold" fill="#141414" stroke="#141414" stroke-width="0.4" >28</text>
<line x1="314.20" y1="639.50" x2="513.70" y2="639.50" stroke="#223" stroke-width="1.3" stroke-dasharray="1.4,3"/>
<text x="410.00" y="773.00" text-anchor="middle" font-size="11.5" font-weight="bold" fill="#222" textLength="138.3" lengthAdjust="spacingAndGlyphs" >Time Post-Implant (Days)</text>
<text transform="translate(283.20,725.30) rotate(-90)" text-anchor="start" font-size="12" font-weight="bold" fill="#141414" textLength="72.80" lengthAdjust="spacingAndGlyphs">Body weight</text>
<text transform="translate(283.20,649.90) rotate(-90)" text-anchor="start" font-size="12" font-weight="bold" fill="#141414" textLength="4.40" lengthAdjust="spacingAndGlyphs">(</text>
<text transform="translate(283.20,645.80) rotate(-90)" text-anchor="start" font-size="12" font-weight="bold" fill="#141414" textLength="11.60" lengthAdjust="spacingAndGlyphs">%</text>
<text transform="translate(283.20,631.30) rotate(-90)" text-anchor="start" font-size="12" font-weight="bold" fill="#141414" textLength="32.70" lengthAdjust="spacingAndGlyphs">initial</text>
<text transform="translate(283.20,596.00) rotate(-90)" text-anchor="start" font-size="12" font-weight="bold" fill="#141414" textLength="7.20" lengthAdjust="spacingAndGlyphs">±</text>
<text transform="translate(283.20,583.60) rotate(-90)" text-anchor="start" font-size="12" font-weight="bold" fill="#141414" textLength="26.70" lengthAdjust="spacingAndGlyphs">SEM</text>
<text transform="translate(283.20,555.30) rotate(-90)" text-anchor="start" font-size="12" font-weight="bold" fill="#141414" textLength="4.60" lengthAdjust="spacingAndGlyphs">)</text>
<line x1="383.85" y1="613.00" x2="383.85" y2="644.00" stroke="#6a1060" stroke-width="1.1" />
<line x1="381.10" y1="613.00" x2="386.60" y2="613.00" stroke="#6a1060" stroke-width="1.1" />
<line x1="381.10" y1="644.00" x2="386.60" y2="644.00" stroke="#6a1060" stroke-width="1.1" />
<line x1="383.85" y1="641.30" x2="383.85" y2="652.00" stroke="#777" stroke-width="1.1" />
<line x1="381.10" y1="641.30" x2="386.60" y2="641.30" stroke="#777" stroke-width="1.1" />
<line x1="381.10" y1="652.00" x2="386.60" y2="652.00" stroke="#777" stroke-width="1.1" />
<line x1="383.85" y1="672.00" x2="383.85" y2="695.80" stroke="#1010c8" stroke-width="1.1" />
<line x1="381.10" y1="672.00" x2="386.60" y2="672.00" stroke="#1010c8" stroke-width="1.1" />
<line x1="381.10" y1="695.80" x2="386.60" y2="695.80" stroke="#1010c8" stroke-width="1.1" />
<line x1="427.38" y1="611.20" x2="427.38" y2="644.00" stroke="#1010c8" stroke-width="1.1" />
<line x1="424.63" y1="611.20" x2="430.13" y2="611.20" stroke="#1010c8" stroke-width="1.1" />
<line x1="424.63" y1="644.00" x2="430.13" y2="644.00" stroke="#1010c8" stroke-width="1.1" />
<line x1="427.38" y1="612.20" x2="427.38" y2="649.20" stroke="#6a1060" stroke-width="1.1" />
<line x1="424.63" y1="612.20" x2="430.13" y2="612.20" stroke="#6a1060" stroke-width="1.1" />
<line x1="424.63" y1="649.20" x2="430.13" y2="649.20" stroke="#6a1060" stroke-width="1.1" />
<line x1="427.38" y1="616.40" x2="427.38" y2="651.30" stroke="#333" stroke-width="1.1" />
<line x1="424.63" y1="616.40" x2="430.13" y2="616.40" stroke="#333" stroke-width="1.1" />
<line x1="424.63" y1="651.30" x2="430.13" y2="651.30" stroke="#333" stroke-width="1.1" />
<line x1="427.38" y1="645.00" x2="427.38" y2="667.20" stroke="#f29a1c" stroke-width="1.1" />
<line x1="424.63" y1="645.00" x2="430.13" y2="645.00" stroke="#f29a1c" stroke-width="1.1" />
<line x1="424.63" y1="667.20" x2="430.13" y2="667.20" stroke="#f29a1c" stroke-width="1.1" />
<line x1="470.91" y1="590.00" x2="470.91" y2="627.00" stroke="#6a1060" stroke-width="1.1" />
<line x1="468.16" y1="590.00" x2="473.66" y2="590.00" stroke="#6a1060" stroke-width="1.1" />
<line x1="468.16" y1="627.00" x2="473.66" y2="627.00" stroke="#6a1060" stroke-width="1.1" />
<line x1="470.91" y1="617.50" x2="470.91" y2="668.30" stroke="#1010c8" stroke-width="1.1" />
<line x1="468.16" y1="617.50" x2="473.66" y2="617.50" stroke="#1010c8" stroke-width="1.1" />
<line x1="468.16" y1="668.30" x2="473.66" y2="668.30" stroke="#1010c8" stroke-width="1.1" />
<line x1="470.91" y1="622.80" x2="470.91" y2="653.50" stroke="#333" stroke-width="1.1" />
<line x1="468.16" y1="622.80" x2="473.66" y2="622.80" stroke="#333" stroke-width="1.1" />
<line x1="468.16" y1="653.50" x2="473.66" y2="653.50" stroke="#333" stroke-width="1.1" />
<line x1="470.91" y1="660.00" x2="470.91" y2="693.70" stroke="#f29a1c" stroke-width="1.1" />
<line x1="468.16" y1="660.00" x2="473.66" y2="660.00" stroke="#f29a1c" stroke-width="1.1" />
<line x1="468.16" y1="693.70" x2="473.66" y2="693.70" stroke="#f29a1c" stroke-width="1.1" />
<line x1="499.93" y1="602.70" x2="499.93" y2="659.80" stroke="#1010c8" stroke-width="1.1" />
<line x1="497.18" y1="602.70" x2="502.68" y2="602.70" stroke="#1010c8" stroke-width="1.1" />
<line x1="497.18" y1="659.80" x2="502.68" y2="659.80" stroke="#1010c8" stroke-width="1.1" />
<line x1="499.93" y1="605.90" x2="499.93" y2="644.00" stroke="#6a1060" stroke-width="1.1" />
<line x1="497.18" y1="605.90" x2="502.68" y2="605.90" stroke="#6a1060" stroke-width="1.1" />
<line x1="497.18" y1="644.00" x2="502.68" y2="644.00" stroke="#6a1060" stroke-width="1.1" />
<line x1="499.93" y1="611.20" x2="499.93" y2="672.50" stroke="#333" stroke-width="1.1" />
<line x1="497.18" y1="611.20" x2="502.68" y2="611.20" stroke="#333" stroke-width="1.1" />
<line x1="497.18" y1="672.50" x2="502.68" y2="672.50" stroke="#333" stroke-width="1.1" />
<line x1="499.93" y1="640.00" x2="499.93" y2="671.40" stroke="#888" stroke-width="1.1" />
<line x1="497.18" y1="640.00" x2="502.68" y2="640.00" stroke="#888" stroke-width="1.1" />
<line x1="497.18" y1="671.40" x2="502.68" y2="671.40" stroke="#888" stroke-width="1.1" />
<polyline points="325.81,639.80 383.85,676.00 427.38,655.20 470.91,671.40 499.93,652.50" fill="none" stroke="#f29a1c" stroke-width="1.5" stroke-linejoin="round"/>
<polyline points="325.81,639.80 383.85,684.60 427.38,633.50 470.91,642.90 499.93,634.40" fill="none" stroke="#2020a8" stroke-width="1.5" stroke-linejoin="round"/>
<polyline points="325.81,639.80 383.85,667.70 427.38,633.40 470.91,640.80 499.93,627.40" fill="none" stroke="#1f701f" stroke-width="1.5" stroke-linejoin="round"/>
<polyline points="325.81,639.80 383.85,628.50 427.38,626.60 470.91,608.60 499.93,622.20" fill="none" stroke="#5a0e52" stroke-width="1.5" stroke-linejoin="round"/>
<polyline points="325.81,639.80 383.85,658.70 427.38,632.90 470.91,634.40 499.93,652.40" fill="none" stroke="#000" stroke-width="1.8" stroke-linejoin="round"/>
<polygon points="325.81,636.30 329.13,639.80 325.81,643.30 322.49,639.80" fill="#f29a1c"/>
<polygon points="383.85,672.50 387.18,676.00 383.85,679.50 380.53,676.00" fill="#f29a1c"/>
<polygon points="427.38,651.70 430.70,655.20 427.38,658.70 424.06,655.20" fill="#f29a1c"/>
<polygon points="470.91,667.90 474.23,671.40 470.91,674.90 467.58,671.40" fill="#f29a1c"/>
<polygon points="499.93,649.00 503.25,652.50 499.93,656.00 496.61,652.50" fill="#f29a1c"/>
<polygon points="325.81,635.80 329.81,643.00 321.81,643.00" fill="#1010c8"/>
<polygon points="383.85,680.60 387.85,687.80 379.85,687.80" fill="#1010c8"/>
<polygon points="427.38,629.50 431.38,636.70 423.38,636.70" fill="#1010c8"/>
<polygon points="470.91,638.90 474.91,646.10 466.91,646.10" fill="#1010c8"/>
<polygon points="499.93,630.40 503.93,637.60 495.93,637.60" fill="#1010c8"/>
<rect x="321.91" y="635.90" width="7.80" height="7.80" fill="#0f8a12"/>
<rect x="379.95" y="663.80" width="7.80" height="7.80" fill="#0f8a12"/>
<rect x="423.48" y="629.50" width="7.80" height="7.80" fill="#0f8a12"/>
<rect x="467.01" y="636.90" width="7.80" height="7.80" fill="#0f8a12"/>
<rect x="496.03" y="623.50" width="7.80" height="7.80" fill="#0f8a12"/>
<circle cx="325.81" cy="639.80" r="3.50" fill="#6a1060"/>
<circle cx="383.85" cy="628.50" r="3.50" fill="#6a1060"/>
<circle cx="427.38" cy="626.60" r="3.50" fill="#6a1060"/>
<circle cx="470.91" cy="608.60" r="3.50" fill="#6a1060"/>
<circle cx="499.93" cy="622.20" r="3.50" fill="#6a1060"/>
<circle cx="325.81" cy="639.80" r="3.20" fill="#fff" stroke="#000" stroke-width="1.8"/>
<circle cx="383.85" cy="658.70" r="3.20" fill="#fff" stroke="#000" stroke-width="1.8"/>
<circle cx="427.38" cy="632.90" r="3.20" fill="#fff" stroke="#000" stroke-width="1.8"/>
<circle cx="470.91" cy="634.40" r="3.20" fill="#fff" stroke="#000" stroke-width="1.8"/>
<circle cx="499.93" cy="652.40" r="3.20" fill="#fff" stroke="#000" stroke-width="1.8"/>
<line x1="319.70" y1="545.80" x2="335.00" y2="545.80" stroke="#000" stroke-width="1.6" />
<circle cx="327.30" cy="545.80" r="3.30" fill="#fff" stroke="#000" stroke-width="1.8"/>
<text x="344.20" y="549.90" text-anchor="start" font-size="12.0" font-weight="normal" fill="#333333" >Vehicle</text>
<line x1="319.70" y1="559.90" x2="335.00" y2="559.90" stroke="#0f8a12" stroke-width="1.6" />
<rect x="323.30" y="555.90" width="8.00" height="8.00" fill="#0f8a12"/>
<text x="344.20" y="564.00" text-anchor="start" font-size="12.0" font-weight="normal" fill="#333333" >10mg/kg bid</text>
<line x1="319.70" y1="574.20" x2="335.00" y2="574.20" stroke="#1010c8" stroke-width="1.6" />
<polygon points="327.30,569.95 331.55,577.60 323.05,577.60" fill="#1010c8"/>
<text x="344.20" y="578.30" text-anchor="start" font-size="12.0" font-weight="normal" fill="#333333" >20mg/kg bid</text>
<line x1="319.70" y1="588.50" x2="335.00" y2="588.50" stroke="#f29a1c" stroke-width="1.6" />
<polygon points="327.30,584.50 331.10,588.50 327.30,592.50 323.50,588.50" fill="#f29a1c"/>
<text x="344.20" y="592.60" text-anchor="start" font-size="12.0" font-weight="normal" fill="#333333" >50mg/kg bid</text>
<line x1="319.70" y1="602.60" x2="335.00" y2="602.60" stroke="#6a1060" stroke-width="1.6" />
<circle cx="327.30" cy="602.60" r="3.80" fill="#6a1060"/>
<text x="344.20" y="606.70" text-anchor="start" font-size="12.0" font-weight="normal" fill="#333333" >100mg/kg qd</text>
</svg></body></html>
